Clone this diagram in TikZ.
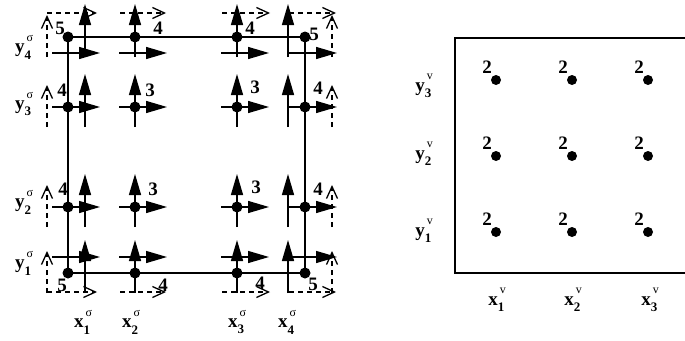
\documentclass[tikz,border=0pt]{standalone}
\usepackage{fontspec}
\setmainfont{Liberation Serif}
\usetikzlibrary{arrows.meta}
\newcommand{\axlab}[3]{\textbf{#1}\rlap{\raisebox{-0.32em}{\fontsize{13}{13}\selectfont\bfseries #2}}\hspace{2pt}\raisebox{0.62em}{\fontsize{12}{12}\selectfont #3}}
\begin{document}
\begin{tikzpicture}[x=1pt,y=-1pt,
  dot/.style={circle,fill,inner sep=0pt,minimum size=11pt},
  num/.style={font=\fontsize{19}{19}\selectfont\bfseries,inner sep=0pt},
  lab/.style={font=\fontsize{19}{19}\selectfont,inner sep=0pt},
  varrow/.style={line width=1.4pt,-{Triangle[length=21pt,width=12pt]}},
  ghost/.style={line width=1.3pt,dash pattern=on 5pt off 4pt,-{Straight Barb[length=12pt,width=11pt,line width=1.3pt]}},
  bound/.style={line width=1.4pt}]
\useasboundingbox (0,0) rectangle (685,340);

% ---------- left: sigma grid ----------
\foreach \i/\X in {1/68,2/135,3/237,4/305}
  \foreach \j/\Y in {1/273,2/207,3/107,4/37}
    \coordinate (s\i\j) at (\X,\Y);

\draw[bound] (s14) -- (s44) -- (s41) -- (s11) -- cycle;

% solid velocity arrows
\foreach \i/\X/\Xv in {1/68/85,2/135/135,3/237/237,4/305/288}
  \foreach \j/\Y/\Yh in {1/273/257,2/207/207,3/107/107,4/37/53}{
    \coordinate (h\i\j a) at (\X-16,\Yh);
    \coordinate (h\i\j b) at (\X+32,\Yh);
    \coordinate (v\i\j a) at (\Xv,\Y+20);
    \coordinate (v\i\j b) at (\Xv,\Y-33);
    \draw[varrow] (h\i\j a) -- (h\i\j b);
    \draw[varrow] (v\i\j a) -- (v\i\j b);
  }

% ghost (dashed) vertical arrows
\foreach \j/\Y in {1/273,2/207,3/107,4/37}{
  \coordinate (gl\j a) at (47,\Y+20);
  \coordinate (gl\j b) at (47,\Y-22);
  \coordinate (gr\j a) at (332,\Y+20);
  \coordinate (gr\j b) at (332,\Y-22);
  \draw[ghost] (gl\j a) -- (gl\j b);
  \draw[ghost] (gr\j a) -- (gr\j b);
}
% ghost (dashed) horizontal arrows
\foreach \i/\A/\B in {1/47/97,2/120/166,3/222/270,4/289/336}{
  \coordinate (gt\i a) at (\A,13);
  \coordinate (gt\i b) at (\B,13);
  \coordinate (gb\i a) at (\A,292);
  \coordinate (gb\i b) at (\B,292);
  \draw[ghost] (gt\i a) -- (gt\i b);
  \draw[ghost] (gb\i a) -- (gb\i b);
}

% dots
\foreach \i in {1,2,3,4}
  \foreach \j in {1,2,3,4}
    \node[dot] (ds\i\j) at (s\i\j) {};

% numbers
\node[num] (n14) at (60,28) {5};
\node[num] (n24) at (158,28) {4};
\node[num] (n34) at (250,28) {4};
\node[num] (n44) at (314,34) {5};
\node[num] (n13) at (62,90) {4};
\node[num] (n23) at (150,90) {3};
\node[num] (n33) at (255,87) {3};
\node[num] (n43) at (318,88) {4};
\node[num] (n12) at (63,189) {4};
\node[num] (n22) at (153,189) {3};
\node[num] (n32) at (256,187) {3};
\node[num] (n42) at (318,189) {4};
\node[num] (n11) at (62,285) {5};
\node[num] (n21) at (163,285) {4};
\node[num] (n31) at (260,283) {4};
\node[num] (n41) at (313,284) {5};

% axis labels
\node[lab] (ly4) at (24,47) {\axlab{y}{4}{σ}};
\node[lab] (ly3) at (24,104) {\axlab{y}{3}{σ}};
\node[lab] (ly2) at (24,202) {\axlab{y}{2}{σ}};
\node[lab] (ly1) at (24,263) {\axlab{y}{1}{σ}};
\node[lab] (lx1) at (83,322) {\axlab{x}{1}{σ}};
\node[lab] (lx2) at (131,322) {\axlab{x}{2}{σ}};
\node[lab] (lx3) at (237,322) {\axlab{x}{3}{σ}};
\node[lab] (lx4) at (287,322) {\axlab{x}{4}{σ}};

% ---------- right: v grid ----------
\coordinate (rt) at (685,38);
\coordinate (rtl) at (455,38);
\coordinate (rbl) at (455,273);
\coordinate (rb) at (685,273);
\draw[bound,line width=1.6pt] (rt) -- (rtl) -- (rbl) -- (rb);

\foreach \i/\X in {1/496,2/572,3/648}
  \foreach \j/\Y in {1/232,2/156,3/80}{
    \node[dot,minimum size=10pt] (dv\i\j) at (\X,\Y) {};
    \node[num] (nv\i\j) at (\X-9,\Y-13) {2};
  }

\node[lab] (lvy3) at (424,86) {\axlab{y}{3}{v}};
\node[lab] (lvy2) at (424,154) {\axlab{y}{2}{v}};
\node[lab] (lvy1) at (424,231) {\axlab{y}{1}{v}};
\node[lab] (lvx1) at (497,300) {\axlab{x}{1}{v}};
\node[lab] (lvx2) at (573,300) {\axlab{x}{2}{v}};
\node[lab] (lvx3) at (650,300) {\axlab{x}{3}{v}};
\end{tikzpicture}
\end{document}
